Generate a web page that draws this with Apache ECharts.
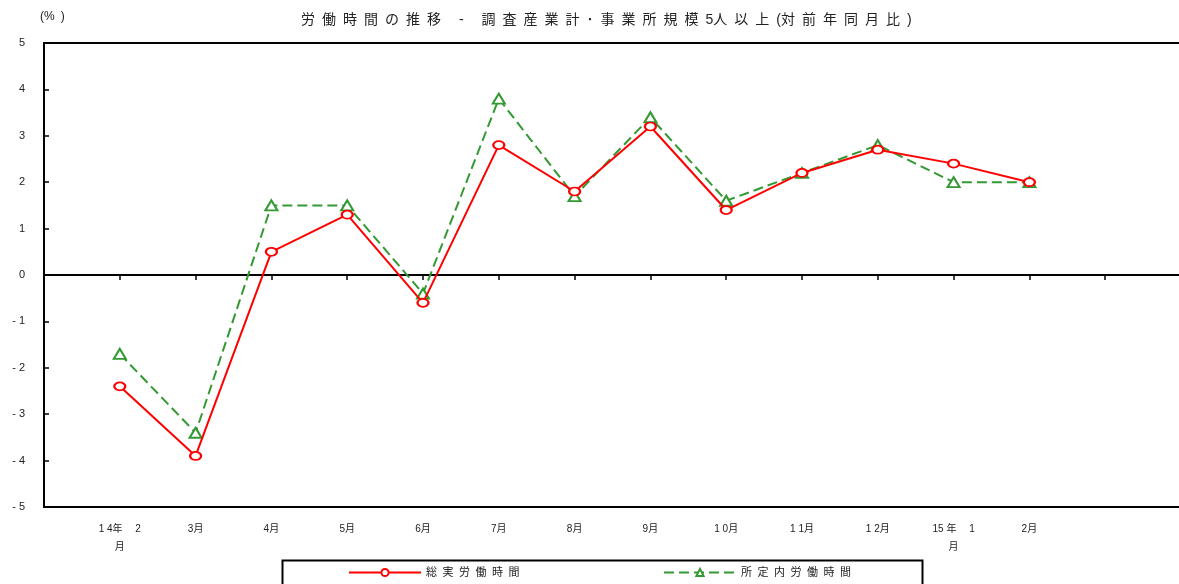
<!DOCTYPE html>
<html>
<head>
<meta charset="utf-8">
<script src="https://cdn.jsdelivr.net/npm/echarts@6/dist/echarts.min.js"></script>
<style>
  html, body { margin: 0; padding: 0; background: #fff; overflow: hidden; }
  #chart { width: 1190px; height: 584px; }
</style>
</head>
<body>
<div id="chart"></div>
<script>
// Month labels under the axis (positions 1..13)
const monthLabels = ['1 4年　 2\n月', '3月', '4月', '5月', '6月', '7月', '8月', '9月',
  '1 0月', '1 1月', '1 2月', '15 年　 1\n月', '2月'];
// 総実労働時間 (対前年同月比, %)
const totalHours = [-2.4, -3.9, 0.5, 1.3, -0.6, 2.8, 1.8, 3.2, 1.4, 2.2, 2.7, 2.4, 2.0];
// 所定内労働時間 (対前年同月比, %)
const scheduledHours = [-1.7, -3.4, 1.5, 1.5, -0.4, 3.8, 1.7, 3.4, 1.6, 2.2, 2.8, 2.0, 2.0];
const seriesNames = ['総実労働時間', '所定内労働時間'];
const titleText = '労働時間の推移 - 調査産業計･事業所規模5人以上(対前年同月比)';

const FONT = '"Liberation Sans", "Noto Sans CJK JP", sans-serif';
const EN = '\u2002';
const spaced = s => s.split('').join(EN);
const toPoints = arr => arr.map((v, i) => [i + 1, v]);

const chart = echarts.init(document.getElementById('chart'));
chart.setOption({
  backgroundColor: '#fff',
  animation: false,
  textStyle: { fontFamily: FONT },
  title: [
    {
      text: spaced(titleText).replace(/\u2002(?=[人])/g, '').replace(/\(\u2002/g, '('),
      left: 296, top: 8,
      textStyle: { fontSize: 14, fontWeight: 'normal', color: '#222', fontFamily: FONT }
    },
    {
      text: '(%' + EN + ')',
      left: 35, top: 6,
      textStyle: { fontSize: 12, fontWeight: 'normal', color: '#222', fontFamily: FONT }
    }
  ],
  grid: {
    left: 44, right: 9, top: 43, bottom: 77,
    show: true, borderColor: '#000', borderWidth: 2, backgroundColor: 'transparent'
  },
  xAxis: [
    {
      // zero line with downward ticks
      type: 'value', min: 0, max: 15, interval: 1,
      axisLine: { onZero: true, lineStyle: { color: '#000', width: 2 } },
      axisTick: { show: true, length: 5, lineStyle: { color: '#000', width: 1.5 } },
      axisLabel: { show: false },
      splitLine: { show: false }
    },
    {
      // month labels along the bottom edge
      type: 'value', min: 0, max: 15, interval: 1, position: 'bottom',
      axisLine: { show: false }, axisTick: { show: false }, splitLine: { show: false },
      axisLabel: {
        margin: 13, fontSize: 10, color: '#222', lineHeight: 18, fontFamily: FONT,
        formatter: v => monthLabels[v - 1] || ''
      }
    }
  ],
  yAxis: {
    type: 'value', min: -5, max: 5, interval: 1,
    axisLine: { show: true, onZero: false, lineStyle: { color: '#000', width: 2 } },
    axisTick: { show: true, inside: true, length: 5, lineStyle: { color: '#000', width: 1.5 } },
    axisLabel: {
      margin: 19, fontSize: 11, color: '#222', fontFamily: FONT,
      formatter: v => (v < 0 ? '- ' + (-v) : String(v))
    },
    splitLine: { show: false }
  },
  legend: [
    {
      data: [seriesNames[0]], left: 348, top: 567, padding: 0,
      itemWidth: 72, itemHeight: 9, itemGap: 4,
      formatter: spaced,
      textStyle: { fontSize: 11, color: '#222', fontFamily: FONT }
    },
    {
      data: [seriesNames[1]], left: 663, top: 567, padding: 0,
      itemWidth: 72, itemHeight: 9,
      formatter: spaced,
      textStyle: { fontSize: 11, color: '#222', fontFamily: FONT }
    }
  ],
  graphic: [
    {
      type: 'rect', left: 280, top: 558, silent: true,
      shape: { width: 640, height: 34 },
      style: { fill: 'none', stroke: '#000', lineWidth: 2 }
    }
  ],
  series: [
    {
      name: seriesNames[1], type: 'line', xAxisIndex: 0,
      data: toPoints(scheduledHours),
      symbol: 'triangle', symbolSize: [12, 10],
      itemStyle: { color: '#fff', borderColor: '#339933', borderWidth: 2 },
      lineStyle: { color: '#339933', width: 2, type: [10, 5] },
      z: 2
    },
    {
      name: seriesNames[0], type: 'line', xAxisIndex: 0,
      data: toPoints(totalHours),
      symbol: 'circle', symbolSize: [11, 8],
      itemStyle: { color: '#fff', borderColor: '#ff0000', borderWidth: 2 },
      lineStyle: { color: '#ff0000', width: 2 },
      z: 3
    }
  ]
});
</script>
</body>
</html>
